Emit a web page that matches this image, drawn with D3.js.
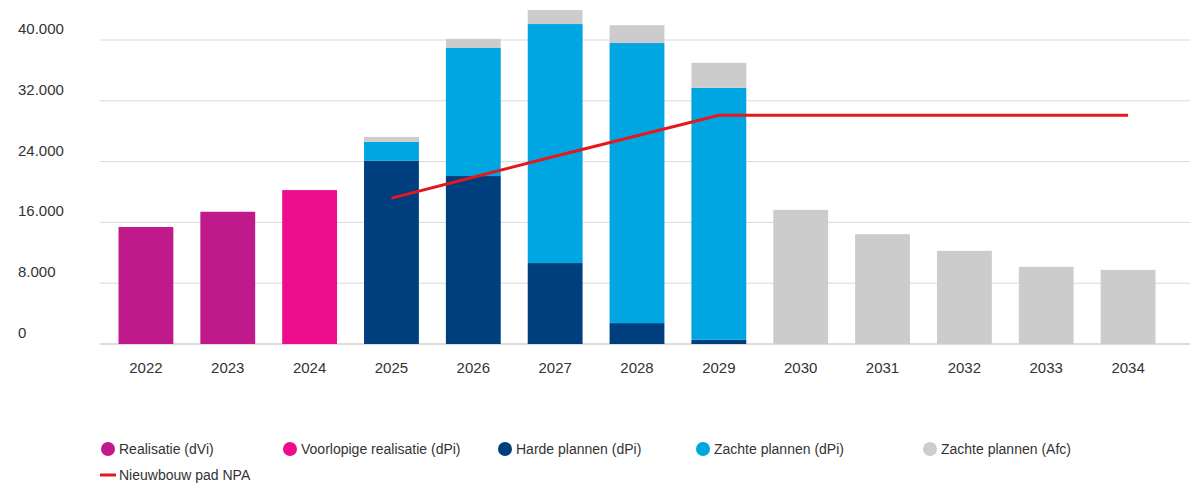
<!DOCTYPE html><html><head><meta charset="utf-8"><script src="https://cdn.jsdelivr.net/npm/d3@7"></script>
<style>body{margin:0;background:#fff;font-family:"Liberation Sans",Arial,sans-serif}</style></head><body><svg id="c" width="1200" height="493"></svg><script>
const years=["2022","2023","2024","2025","2026","2027","2028","2029","2030","2031","2032","2033","2034"];
const realisatie=[15400,17400,0,0,0,0,0,0,0,0,0,0,0];
const voorlopig=[0,0,20250,0,0,0,0,0,0,0,0,0,0];
const harde=[0,0,0,24100,22100,10650,2750,550,0,0,0,0,0];
const zachteDpi=[0,0,0,2500,16850,31450,36850,33150,0,0,0,0,0];
const zachteAfc=[0,0,0,650,1200,1850,2350,3300,17650,14450,12250,10150,9750];
const npa=[null,null,null,19200,21950,24700,27400,30100,30100,30100,30100,30100,30100];
const yTicks=[0,8000,16000,24000,32000,40000];
const series=[{name:"Realisatie (dVi)",v:realisatie,c:"#c0198c"},{name:"Voorlopige realisatie (dPi)",v:voorlopig,c:"#ec0c8c"},{name:"Harde plannen (dPi)",v:harde,c:"#003f7d"},{name:"Zachte plannen (dPi)",v:zachteDpi,c:"#00a6e2"},{name:"Zachte plannen (Afc)",v:zachteAfc,c:"#cccccc"}];
const svg=d3.select("#c");
const x=d3.scaleBand().domain(years).range([105,1169]).paddingInner(0.33).paddingOuter(0.165);
const y=d3.scaleLinear().domain([0,40000]).range([344,40]);
const fmt=d=>d3.format(",")(d).replace(/,/g,".");
yTicks.forEach(t=>{svg.append("line").attr("x1",100).attr("x2",1190).attr("y1",y(t)).attr("y2",y(t)).attr("stroke",t===0?"#bbb":"#d9d9d9");
svg.append("text").attr("x",18).attr("y",y(t)-6).attr("font-size",15).attr("fill","#333").text(fmt(t));});
years.forEach((yr,i)=>{let acc=0;series.forEach(s=>{const v=s.v[i];if(v>0){svg.append("rect").attr("x",x(yr)).attr("width",x.bandwidth()).attr("y",y(acc+v)).attr("height",y(acc)-y(acc+v)).attr("fill",s.c);acc+=v;}});
svg.append("text").attr("x",x(yr)+x.bandwidth()/2).attr("y",373).attr("text-anchor","middle").attr("font-size",15).attr("fill","#333").text(yr);});
const line=d3.line().defined(d=>d.v!=null).x(d=>x(d.yr)+x.bandwidth()/2).y(d=>y(d.v));
svg.append("path").datum(years.map((yr,i)=>({yr,v:npa[i]}))).attr("d",line).attr("fill","none").attr("stroke","#e3191e").attr("stroke-width",3);
const lx=[100,282,497,695,922];
series.forEach((s,i)=>{svg.append("circle").attr("cx",lx[i]+8).attr("cy",449).attr("r",7).attr("fill",s.c);
svg.append("text").attr("x",lx[i]+19).attr("y",454).attr("font-size",14).attr("fill","#333").text(s.name);});
svg.append("line").attr("x1",100).attr("x2",116).attr("y1",475).attr("y2",475).attr("stroke","#e3191e").attr("stroke-width",3);
svg.append("text").attr("x",119).attr("y",480).attr("font-size",14).attr("fill","#333").text("Nieuwbouw pad NPA");
</script></body></html>
